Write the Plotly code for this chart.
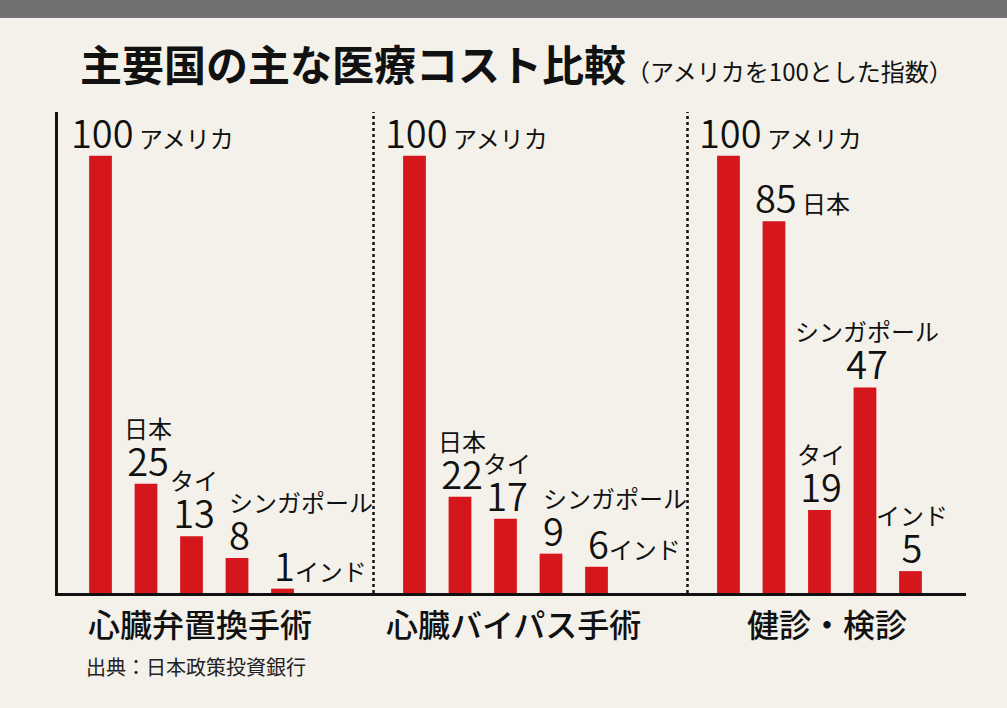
import plotly.graph_objects as go

# ---- data ----
procedures = ["心臓弁置換手術", "心臓バイパス手術", "健診・検診"]
countries = ["アメリカ", "日本", "タイ", "シンガポール", "インド"]
valve_replacement = [100, 25, 13, 8, 1]
bypass_surgery = [100, 22, 17, 9, 6]
health_checkup = [100, 85, 19, 47, 5]
title_main = "主要国の主な医療コスト比較"
title_sub = "（アメリカを100とした指数）"
source_text = "出典：日本政策投資銀行"

# ---- label placement styles (per bar) ----
label_modes = [
    ["right", "above", "above", "above-left", "right-tight"],
    ["right", "above", "above", "above-left", "right-tight"],
    ["right", "right", "above", "above", "above"],
]

# ---- styles ----
FONT = "Noto Sans CJK JP"
RED = "#d5161c"
BG = "#f4f1ea"
BAND = "#717171"
INK = "#111111"
GROUP_STEP = 6.9
BAR_W = 0.5
NUM_SIZE = 38
NAME_SIZE = 24
DIGIT_W = 21

groups = [valve_replacement, bypass_surgery, health_checkup]

xs, ys = [], []
for g, vals in enumerate(groups):
    for i, v in enumerate(vals):
        xs.append(g * GROUP_STEP + i)
        ys.append(v)

fig = go.Figure(
    go.Bar(x=xs, y=ys, width=BAR_W, marker=dict(color=RED, line=dict(width=0)),
           hoverinfo="skip")
)


def num_span(s):
    return "<span style='font-size:%dpx;font-weight:350'>%s</span>" % (NUM_SIZE, s)


def name_span(s):
    return "<span style='font-size:%dpx'>%s</span>" % (NAME_SIZE, s)


annotations = []
for g, vals in enumerate(groups):
    for i, v in enumerate(vals):
        xp = g * GROUP_STEP + i
        s = str(v)
        half = len(s) * DIGIT_W / 2
        mode = label_modes[g][i]
        name = countries[i]
        if mode == "right":
            text = num_span(s) + name_span(" " + name)
            kw = dict(xanchor="left", align="left", xshift=-half)
        elif mode == "right-tight":
            text = num_span(s) + name_span(name)
            kw = dict(xanchor="left", align="left", xshift=-half)
        elif mode == "above":
            text = name_span(name) + "<br>" + num_span(s)
            kw = dict(xanchor="center", align="center", xshift=2)
        else:  # above-left
            text = name_span(name) + "<br>" + num_span(s)
            kw = dict(xanchor="left", align="left", xshift=-half)
        annotations.append(dict(
            x=xp, y=v, xref="x", yref="y", text=text, showarrow=False,
            yanchor="bottom", yshift=-5,
            font=dict(family=FONT, size=29, color=INK), **kw))

# category labels
for g, p in enumerate(procedures):
    annotations.append(dict(
        x=g * GROUP_STEP + 2, y=-0.0624, xref="x", yref="paper", text=p,
        showarrow=False, xanchor="center", yanchor="middle", xshift=8,
        font=dict(family=FONT, size=32, color=INK, weight=500)))

# title
annotations.append(dict(
    x=0.022, y=1.102, xref="paper", yref="paper",
    text="<b>" + title_main + "</b><span style='font-size:24px'>" + title_sub + "</span>",
    showarrow=False, xanchor="left", yanchor="middle",
    font=dict(family=FONT, size=42, color=INK)))

# source
annotations.append(dict(
    x=0.0286, y=-0.1538, xref="paper", yref="paper", text=source_text,
    showarrow=False, xanchor="left", yanchor="middle",
    font=dict(family=FONT, size=20, color="#222222")))

shapes = [
    dict(type="rect", xref="paper", yref="paper", x0=-0.2, x1=1.2, y0=1.1954, y1=1.4,
         fillcolor=BAND, line=dict(width=0), layer="above"),
]
for g in range(1, len(groups)):
    xsep = g * GROUP_STEP - 0.9
    shapes.append(dict(type="line", xref="x", yref="y", x0=xsep, x1=xsep, y0=0, y1=110,
                       line=dict(color="#111111", width=2.5, dash="dot")))

fig.update_layout(
    width=1007, height=708,
    margin=dict(l=58, r=41, t=112, b=115),
    paper_bgcolor=BG, plot_bgcolor=BG,
    showlegend=False,
    annotations=annotations,
    shapes=shapes,
    xaxis=dict(range=[-0.934, 19.02], showline=True, linecolor="#111111", linewidth=3,
               showticklabels=False, showgrid=False, zeroline=False, ticks=""),
    yaxis=dict(range=[0, 110], showline=True, linecolor="#111111", linewidth=3,
               showticklabels=False, showgrid=False, zeroline=False, ticks=""),
)

fig.write_html(
    "out.html",
    config={"displayModeBar": False},
    post_script="document.body.style.margin='0';document.body.style.background='%s';" % BG,
)
